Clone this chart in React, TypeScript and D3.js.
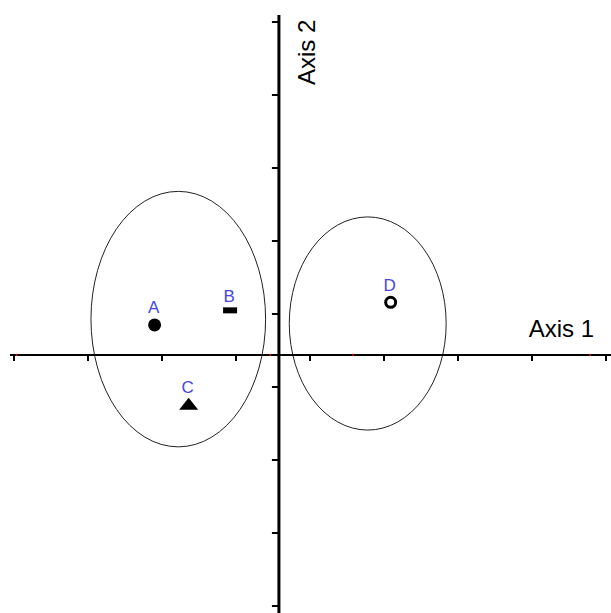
import React from 'react'
import * as d3 from 'd3'

// tick positions along each axis (index units)
const xTicks = [0, 1, 2, 3, 4, 5, 6, 7, 8]
const yTicks = [0, 1, 2, 3, 4, 5, 6, 7, 8]
// where the axes cross, in the same units
const xCross = 3.58
const yCross = 3.44
// faint red marks on axis 1
const redMarks = [0.03, 3.46, 4.58, 7.78]

const labels = ['A', 'B', 'C', 'D']
const xValues = [1.9, 2.92, 2.36, 5.09]
const yValues = [3.85, 4.05, 2.77, 4.16]
const shapes = ['dot', 'bar', 'triangle', 'ring']

// group ellipses: centre x, centre y, radius x, radius y
const ellCx = [2.22, 4.78]
const ellCy = [3.93, 3.87]
const ellRx = [1.18, 1.06]
const ellRy = [1.75, 1.46]

const W = 611
const H = 613
const font = '"Liberation Sans", Arial, sans-serif'

export default function App() {
  const x = d3.scaleLinear().domain([0, 8]).range([14, 606])
  const y = d3.scaleLinear().domain([0, 8]).range([606, 22])
  const ax = x(xCross)
  const ay = y(yCross)

  const half: Record<string, number> = { dot: 7, bar: 3, triangle: 6, ring: 6.5 }
  // flat triangle, wider than tall
  const tri = d3.line()([[-9.5, 6], [0, -6], [9.5, 6]]) + 'Z'

  return (
    <svg width={W} height={H} style={{ position: 'absolute', left: 0, top: 0, background: '#fff' }}>
      {ellCx.map((c, i) => (
        <ellipse key={'e' + i} cx={x(c)} cy={y(ellCy[i])}
          rx={x(ellRx[i]) - x(0)} ry={y(0) - y(ellRy[i])}
          fill="none" stroke="#222" strokeWidth={1} />
      ))}

      {/* axis 1 */}
      <line x1={10} x2={W} y1={ay} y2={ay} stroke="#000" strokeWidth={2} />
      {xTicks.map(t => (
        <line key={'xt' + t} x1={x(t)} x2={x(t)} y1={ay} y2={ay + 6} stroke="#000" strokeWidth={2} />
      ))}
      {redMarks.map((t, i) => (
        <rect key={'r' + i} x={x(t) - 0.5} y={ay - 1} width={1.5} height={2} fill="#e00" />
      ))}

      {/* axis 2 */}
      <line x1={ax} x2={ax} y1={15} y2={H} stroke="#000" strokeWidth={3} />
      {yTicks.map(t => (
        <line key={'yt' + t} x1={ax - 7} x2={ax} y1={y(t)} y2={y(t)} stroke="#000" strokeWidth={2} />
      ))}

      <text x={594} y={337} textAnchor="end" fontFamily={font} fontSize={24} fill="#000">Axis 1</text>
      <text transform={`translate(315,85) rotate(-90)`} fontFamily={font} fontSize={24} fill="#000">Axis 2</text>

      {labels.map((l, i) => {
        const px = x(xValues[i])
        const py = y(yValues[i])
        const s = shapes[i]
        let mark
        if (s === 'dot') mark = <circle cx={px} cy={py} r={6.5} fill="#000" />
        else if (s === 'bar') mark = <rect x={px - 7} y={py - 3} width={14} height={6} fill="#000" />
        else if (s === 'triangle') mark = <path d={tri} transform={`translate(${px},${py})`} fill="#000" />
        else mark = <circle cx={px} cy={py} r={5} fill="none" stroke="#000" strokeWidth={3} />
        return (
          <g key={l}>
            {mark}
            <text x={px - 1} y={py - half[s] - 5} textAnchor="middle" fontFamily={font} fontSize={17} fill="#4646e6">{l}</text>
          </g>
        )
      })}
    </svg>
  )
}
